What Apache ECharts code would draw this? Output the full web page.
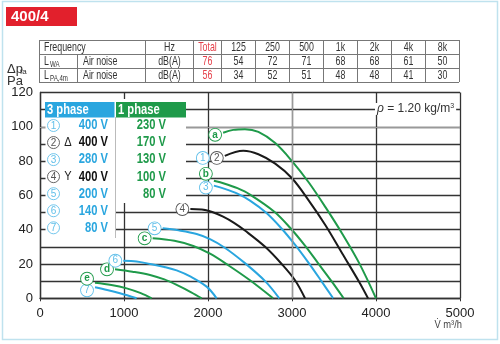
<!DOCTYPE html>
<html><head><meta charset="utf-8">
<script src="https://cdn.jsdelivr.net/npm/echarts@6/dist/echarts.min.js"></script>
<style>html,body{margin:0;padding:0;background:#fff}#c{width:500px;height:344px}</style>
</head><body><div id="c"></div>
<script>
// ---------- data ----------
const freqBands = ['125', '250', '500', '1k', '2k', '4k', '8k'];
const lwaTotal = 76;
const lpaTotal = 56;
const lwaValues = [54, 72, 71, 68, 68, 61, 50];
const lpaValues = [34, 52, 51, 48, 48, 41, 30];

const xTickValues = [0, 1000, 2000, 3000, 4000, 5000];
const yTickLabels = [0, 20, 40, 60, 80, 100, 120];

const phase3Ids = ['1', '2', '3', '4', '5', '6', '7'];
const phase3Volts = ['400 V', '400 V', '280 V', '400 V', '200 V', '140 V', '80 V'];
const phase3Conn = ['', 'Δ', '', 'Y', '', '', ''];
const phase1Ids = ['a', 'b', 'c', 'd', 'e'];
const phase1Volts = ['230 V', '170 V', '130 V', '100 V', '80 V'];

// curves: [airflow m3/h, pressure Pa]
const curveA = [[2180,96.5],[2300,98.2],[2440,98.6],[2600,97],[2800,90.5],[3000,80],[3200,67.5],[3400,53],[3600,37.5],[3800,20.5],[4000,0]];
const curve12 = [[2200,83],[2420,86],[2600,84],[2800,78.5],[3000,70],[3200,57],[3400,42.5],[3600,26],[3800,9.5],[3905,0]];
const curveB = [[2070,68.5],[2200,66.8],[2350,64.2],[2500,60.5],[2790,50.5],[2980,41],[3150,31],[3310,20.5],[3470,10],[3615,0]];
const curve3 = [[2070,65.7],[2200,63.8],[2350,61],[2500,57],[2690,50],[2870,41],[3040,31],[3200,20.5],[3350,10],[3490,0]];
const curve4 = [[1790,52],[1925,51.8],[2050,50.3],[2180,47.6],[2310,44],[2440,39.5],[2680,30],[2877,20],[3036,10.5],[3155,0]];
const curve5 = [[1460,40.8],[1650,39.6],[1865,37.5],[2024,34.5],[2200,29.5],[2440,20.5],[2680,10],[2849,0]];
const curveC = [[1341,35],[1600,33.5],[1825,30.5],[2024,26],[2250,19],[2500,10.5],[2775,0]];
const curve6 = [[992,21.9],[1150,21.5],[1310,20],[1480,18.3],[1627,16.3],[1800,12.5],[1984,6.8],[2103,0]];
const curveD = [[893,16.9],[1100,15.5],[1310,13.6],[1480,11],[1627,7.8],[1800,3.5],[1925,0]];
const curveE = [[655,9.1],[850,7.8],[1032,5.8],[1200,3],[1329,0]];
const curve7 = [[655,6.4],[800,4.8],[952,2.9],[1151,0]];

// ---------- styling ----------
const GREEN = '#1f9a4a', BLUE = '#2aa6df', BLACK = '#1a1a1a', LBLUE = '#62c0ea', GRID = '#333';
const SANS = '"Liberation Sans",Arial,sans-serif';

const circ = (c, bold) => ({color: c, borderColor: c, borderWidth: 0.9, borderRadius: 7, width: 12, height: 12,
  lineHeight: 12, align: 'center', fontSize: 10, fontWeight: bold ? 'bold' : 'normal', backgroundColor: '#fff', fontFamily: SANS});
const richCirc = {n: circ(LBLUE, false), k: circ('#555', false), g: circ(GREEN, true), sp: {width: 2}};

function curveSeries(pts, color, labelText, offset) {
  const data = pts.map((p, i) => i === 0 ? {value: p, label: {show: true, position: 'left', distance: 2,
      offset: offset || [0, 0], formatter: labelText, rich: richCirc}} : {value: p});
  return {type: 'line', data, smooth: 0.35, symbol: 'circle', symbolSize: 0, showSymbol: true,
    lineStyle: {color, width: 2}, itemStyle: {color}, silent: true, z: 3, label: {show: false}};
}

const series = [
  Object.assign(curveSeries(curve7, BLUE, '{n|7}', [0, 3]), {markLine: {silent: true, symbol: 'none', label: {show: false},
    lineStyle: {color: '#999', type: 'solid', width: 1.2}, data: [{yAxis: 100}, {xAxis: 3000}]}}),
  curveSeries(curveE, GREEN, '{g|e}', [0, -4]),
  curveSeries(curveD, GREEN, '{g|d}'),
  curveSeries(curve6, BLUE, '{n|6}'),
  curveSeries(curveC, GREEN, '{g|c}'),
  curveSeries(curve5, BLUE, '{n|5}'),
  curveSeries(curve4, BLACK, '{k|4}'),
  curveSeries(curve3, BLUE, '{n|3}', [0, 2]),
  curveSeries(curveB, GREEN, '{g|b}', [0, -7]),
  curveSeries(curve12, BLACK, '{n|1}{sp|}{k|2}', [0, 2]),
  curveSeries(curveA, GREEN, '{g|a}', [0, 2])
];

// ---------- graphics (table, legend, titles) ----------
const G = [];
const txt = (x, y, text, o, sx) => G.push(Object.assign({type: 'text', x, y, z: 20, scaleX: sx || 1,
  style: Object.assign({text, fill: '#333', font: '12px ' + SANS, align: 'left', verticalAlign: 'middle'}, o || {})}));
const line = (x1, y1, x2, y2, c, w) => G.push({type: 'line', z: 20, shape: {x1, y1, x2, y2}, style: {stroke: c || '#777', lineWidth: w || 1}});
const rect = (x, y, w, h, fill, z) => G.push({type: 'rect', z: z || 10, shape: {x, y, width: w, height: h}, style: {fill}});

// frame + title
G.push({type: 'rect', z: 1, shape: {x: 2.5, y: 1.5, width: 495, height: 338}, style: {fill: 'none', stroke: '#bfe2ee', lineWidth: 1.5}});
rect(6, 7, 71, 19, '#e2202c', 20);
txt(11, 17, '400/4', {fill: '#fff', font: 'bold 15px ' + SANS});

// table
const TS = 0.68;
const TF = '13px ' + SANS;
const colX = [39, 77, 145, 193, 221, 255, 289, 323, 357, 391, 425, 459];
const rowY = [40, 54, 68, 82];
rowY.forEach(y => line(39, y + 0.5, 459, y + 0.5));
colX.forEach((x, i) => { if (i !== 1) line(x + 0.5, 40, x + 0.5, 82); else line(x + 0.5, 54, x + 0.5, 82); });
const rc = i => (rowY[i] + rowY[i + 1]) / 2 + 0.5;
const cc = i => (colX[i] + colX[i + 1]) / 2 + 0.5;
txt(44, rc(0), 'Frequency', {font: TF}, TS);
txt(44, rc(1), 'L', {font: TF}, TS);
txt(50, rc(1) + 3, 'WA', {font: '9px ' + SANS}, TS);
txt(44, rc(2), 'L', {font: TF}, TS);
txt(50, rc(2) + 3, 'PA,4m', {font: '9px ' + SANS}, TS);
txt(83, rc(1), 'Air noise', {font: TF}, TS);
txt(83, rc(2), 'Air noise', {font: TF}, TS);
txt(cc(2), rc(0), 'Hz', {align: 'center', font: TF}, TS);
txt(cc(2), rc(1), 'dB(A)', {align: 'center', font: TF}, TS);
txt(cc(2), rc(2), 'dB(A)', {align: 'center', font: TF}, TS);
txt(cc(3), rc(0), 'Total', {align: 'center', fill: '#e5404a', font: TF}, TS);
txt(cc(3), rc(1), String(lwaTotal), {align: 'center', fill: '#e5404a', font: TF}, TS);
txt(cc(3), rc(2), String(lpaTotal), {align: 'center', fill: '#e5404a', font: TF}, TS);
freqBands.forEach((f, i) => {
  txt(cc(4 + i), rc(0), f, {align: 'center', font: TF}, TS);
  txt(cc(4 + i), rc(1), String(lwaValues[i]), {align: 'center', font: TF}, TS);
  txt(cc(4 + i), rc(2), String(lpaValues[i]), {align: 'center', font: TF}, TS);
});

// axis titles
txt(7, 69, 'Δp', {fill: '#333', font: '13px ' + SANS});
txt(20, 72, 'fa', {fill: '#333', font: '8px ' + SANS});
txt(7, 81, 'Pa', {fill: '#333', font: '13px ' + SANS});
txt(462, 325, 'V\u0307 m³/h', {fill: '#444', align: 'right', font: '11px ' + SANS}, 0.85);

// rho
G.push({type: 'text', x: 375, y: 109, z: 20, style: {text: '{i|ρ} = 1.20 kg/m{s|3}', fill: '#333', verticalAlign: 'middle',
  backgroundColor: '#fff', padding: [0, 2], font: '12px ' + SANS,
  rich: {i: {fontStyle: 'italic', fontSize: 12, fontFamily: SANS, fill: '#333'}, s: {fontSize: 7, fontFamily: SANS, verticalAlign: 'top', fill: '#333'}}}});

// legend
rect(45.5, 99, 70, 141, '#fff', 10);
rect(115, 99, 71, 104, '#fff', 10);
rect(45, 102, 69.5, 15.5, BLUE, 12);
rect(116, 102, 70, 15.5, GREEN, 12);
line(115.5, 117, 115.5, 238, '#bbb', 1);
txt(47, 110, '3 phase', {fill: '#fff', font: 'bold 14px ' + SANS}, 0.8);
txt(118, 110, '1 phase', {fill: '#fff', font: 'bold 14px ' + SANS}, 0.8);
const legY = i => 125.5 + i * 17.05;
phase3Ids.forEach((id, i) => {
  const dark = phase3Conn[i] !== '';
  const c = dark ? '#555' : LBLUE;
  G.push({type: 'circle', z: 20, shape: {cx: 53.5, cy: legY(i), r: 6}, style: {fill: '#fff', stroke: c, lineWidth: 0.9}});
  txt(53.5, legY(i) + 0.5, id, {align: 'center', fill: c, font: '10px ' + SANS});
  if (dark) txt(68, legY(i), phase3Conn[i], {align: 'center', fill: '#222', font: '13px ' + SANS}, 0.85);
  txt(108, legY(i), phase3Volts[i], {align: 'right', fill: dark ? '#111' : BLUE, font: 'bold 14px ' + SANS}, 0.8);
});
phase1Volts.forEach((v, i) => txt(166, legY(i), v, {align: 'right', fill: GREEN, font: 'bold 14px ' + SANS}, 0.8));

// ---------- chart ----------
const chart = echarts.init(document.getElementById('c'), null, {renderer: 'canvas'});
chart.setOption({
  animation: false,
  backgroundColor: '#fff',
  grid: {left: 40, right: 40, top: 92.5, bottom: 45.7},
  xAxis: {type: 'value', min: xTickValues[0], max: xTickValues[xTickValues.length - 1], interval: 1000,
    axisLine: {show: true, lineStyle: {color: GRID, width: 1.3}},
    axisTick: {show: true, length: 3, lineStyle: {color: GRID}},
    axisLabel: {color: '#222', fontSize: 13, fontFamily: SANS, margin: 9, formatter: v => String(v)},
    splitLine: {show: true, lineStyle: {color: GRID, width: 1.3}}},
  yAxis: {type: 'value', min: 0, max: 120, interval: 10,
    axisLine: {show: true, lineStyle: {color: GRID, width: 1.3}},
    axisTick: {show: true, inside: true, length: 5, lineStyle: {color: GRID}},
    axisLabel: {color: '#222', fontSize: 13, fontFamily: SANS, margin: 7,
      formatter: v => yTickLabels.indexOf(v) >= 0 ? String(v) : ''},
    splitLine: {show: true, lineStyle: {color: GRID, width: 1.3}}},
  series,
  graphic: {elements: G}
});
</script></body></html>
